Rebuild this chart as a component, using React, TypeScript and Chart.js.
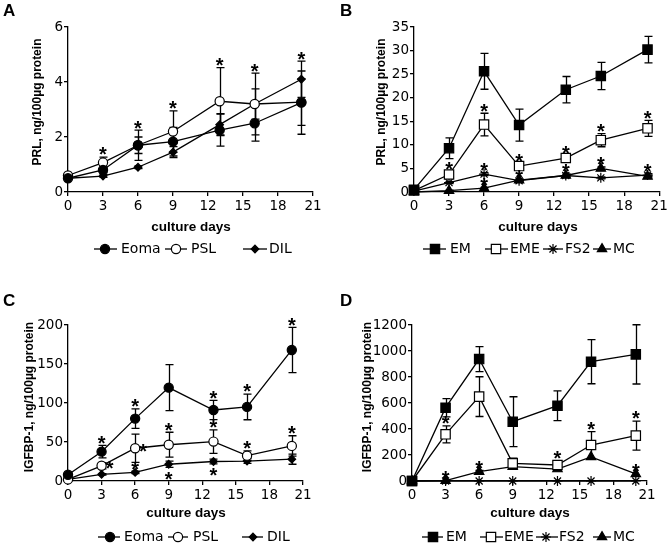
import React, { useEffect, useRef } from 'react';
import { Chart, registerables } from 'chart.js';

Chart.register(...registerables);

// ---------- data ----------
const DAYS = [0, 3, 6, 9, 13, 16, 20];
const X_TICKS = [0, 3, 6, 9, 12, 15, 18, 21];

// Panel A: PRL, ng/100µg protein
const A_EOMA = [0.5, 0.8, 1.7, 1.83, 2.25, 2.5, 3.25];
const A_EOMA_ERR = [0, 0.1, 0.55, 0.52, 0.58, 0.65, 1.15];
const A_EOMA_STARS = ['', '', 'a', '', '', '', ''];
const A_PSL = [0.6, 1.07, 1.7, 2.2, 3.3, 3.2, 3.27];
const A_PSL_ERR = [0, 0.2, 0.3, 0.75, 1.22, 1.12, 0.85];
const A_PSL_STARS = ['', 'a', '', 'a', 'a', 'a', ''];
const A_DIL = [0.5, 0.58, 0.9, 1.45, 2.45, 3.2, 4.1];
const A_DIL_ERR = [0, 0.05, 0.05, 0.2, 0.4, 0.55, 0.66];
const A_DIL_STARS = ['', '', '', '', '', '', 'a'];

// Panel B: PRL, ng/100µg protein
const B_EM = [0.5, 9.3, 25.6, 14.2, 21.7, 24.6, 30.2];
const B_EM_ERR = [0.3, 2.2, 3.8, 3.4, 2.8, 2.9, 2.8];
const B_EM_STARS = ['', '', '', '', '', '', ''];
const B_EME = [0.3, 3.7, 14.3, 5.5, 7.2, 11.0, 13.5];
const B_EME_ERR = [0.1, 0.6, 2.4, 0.5, 0.6, 1.4, 1.7];
const B_EME_STARS = ['', 'a', 'a', 'a', 'a', 'a', 'a'];
const B_FS2 = [0.2, 2.0, 3.8, 2.4, 3.5, 3.0, 3.6];
const B_FS2_ERR = [0, 0.2, 0.3, 0.3, 0.3, 0.2, 0.3];
const B_FS2_STARS = ['', '', 'a', 'a', '', '', 'a'];
const B_MC = [0, 0.3, 0.8, 2.5, 3.5, 5.0, 3.3];
const B_MC_ERR = [0, 0.1, 0.2, 0.3, 0.3, 0.3, 0.3];
const B_MC_STARS = ['', '', 'a', '', 'a', 'a', ''];

// Panel C: IGFBP-1, ng/100µg protein
const C_EOMA = [8, 37.6, 80, 119.7, 91, 95, 168];
const C_EOMA_ERR = [2, 8, 12.5, 29.5, 12.4, 16.5, 29];
const C_EOMA_STARS = ['', 'a', 'a', '', 'a', 'a', 'a'];
const C_PSL = [2, 19.5, 42, 46.5, 50.5, 32.5, 45];
const C_PSL_ERR = [1, 4, 18, 16, 15, 6, 13];
const C_PSL_STARS = ['', 'r', 'r', 'a', 'a', 'a', 'a'];
const C_DIL = [2, 8.5, 11, 21.5, 25, 25.6, 28];
const C_DIL_ERR = [0.5, 1, 1.5, 4, 3, 3, 6.5];
const C_DIL_STARS = ['', '', 'a', 'b', 'b', '', ''];

// Panel D: IGFBP-1, ng/100µg protein
const D_EM = [0, 564, 938, 456, 579, 918, 974];
const D_EM_ERR = [0, 70, 96, 192, 115, 170, 228];
const D_EM_STARS = ['', '', '', '', '', '', ''];
const D_EME = [0, 359, 649, 136, 123, 277, 349];
const D_EME_ERR = [0, 65, 153, 40, 33, 103, 112];
const D_EME_STARS = ['', 'a', '', '', 'a', 'a', 'a'];
const D_FS2 = [0, 0, 0, 0, 0, 0, 0];
const D_FS2_ERR = [0, 0, 0, 0, 0, 0, 0];
const D_FS2_STARS = ['', '', '', '', '', '', ''];
const D_MC = [0, 3, 72, 110, 92, 185, 55];
const D_MC_ERR = [0, 0, 10, 15, 12, 0, 0];
const D_MC_STARS = ['', 'a', 'a', '', '', '', 'a'];

// ---------- styles ----------
type Mk = 'circle' | 'ocircle' | 'diamond' | 'square' | 'osquare' | 'star' | 'triangle';

const MARKER: Record<Mk, { pointStyle: string; radius: number; fill: string }> = {
  circle: { pointStyle: 'circle', radius: 4.6, fill: '#000' },
  ocircle: { pointStyle: 'circle', radius: 4.6, fill: '#fff' },
  diamond: { pointStyle: 'rectRot', radius: 3.8, fill: '#000' },
  square: { pointStyle: 'rect', radius: 6.6, fill: '#000' },
  osquare: { pointStyle: 'rect', radius: 6.6, fill: '#fff' },
  star: { pointStyle: 'star', radius: 5, fill: '#000' },
  triangle: { pointStyle: 'triangle', radius: 5.4, fill: '#000' },
};

const SANS = "'Liberation Sans', Arial, sans-serif";
const TICK_FONT = "'DejaVu Sans', sans-serif";

interface SeriesDef {
  label: string;
  data: number[];
  err: number[];
  stars: string[];
  mk: Mk;
}

interface PanelDef {
  letter: string;
  yTitle: string;
  yMax: number;
  yStep: number;
  series: SeriesDef[];
  box: { x: number; y: number; w: number; h: number };
  area: { l: number; r: number; t: number; b: number };
  letterPos: [number, number];
  yTitlePos: [number, number];
  xTitlePos: [number, number];
  legendY: number;
  legend: [number, number, number, number][]; // lineStart, lineEnd, markerX, textX
}

const PANELS: PanelDef[] = [
  {
    letter: 'A',
    yTitle: 'PRL, ng/100µg protein',
    yMax: 6,
    yStep: 2,
    series: [
      { label: 'Eoma', data: A_EOMA, err: A_EOMA_ERR, stars: A_EOMA_STARS, mk: 'circle' },
      { label: 'PSL', data: A_PSL, err: A_PSL_ERR, stars: A_PSL_STARS, mk: 'ocircle' },
      { label: 'DIL', data: A_DIL, err: A_DIL_ERR, stars: A_DIL_STARS, mk: 'diamond' },
    ],
    box: { x: 0, y: 0, w: 333, h: 270 },
    area: { l: 68, r: 313, t: 27, b: 192 },
    letterPos: [3, 11],
    yTitlePos: [38, 102],
    xTitlePos: [191, 227],
    legendY: 249,
    legend: [
      [94, 117, 105, 121],
      [165, 187, 176, 191],
      [243, 267, 255, 269],
    ],
  },
  {
    letter: 'B',
    yTitle: 'PRL, ng/100µg protein',
    yMax: 35,
    yStep: 5,
    series: [
      { label: 'EM', data: B_EM, err: B_EM_ERR, stars: B_EM_STARS, mk: 'square' },
      { label: 'EME', data: B_EME, err: B_EME_ERR, stars: B_EME_STARS, mk: 'osquare' },
      { label: 'FS2', data: B_FS2, err: B_FS2_ERR, stars: B_FS2_STARS, mk: 'star' },
      { label: 'MC', data: B_MC, err: B_MC_ERR, stars: B_MC_STARS, mk: 'triangle' },
    ],
    box: { x: 333, y: 0, w: 334, h: 270 },
    area: { l: 81, r: 328, t: 27, b: 192 },
    letterPos: [7, 11],
    yTitlePos: [49, 102],
    xTitlePos: [205, 227],
    legendY: 249,
    legend: [
      [90, 113, 102, 117],
      [152, 175, 163, 177],
      [210, 230, 220, 232],
      [260, 278, 269, 280],
    ],
  },
  {
    letter: 'C',
    yTitle: 'IGFBP-1, ng/100µg protein',
    yMax: 200,
    yStep: 50,
    series: [
      { label: 'Eoma', data: C_EOMA, err: C_EOMA_ERR, stars: C_EOMA_STARS, mk: 'circle' },
      { label: 'PSL', data: C_PSL, err: C_PSL_ERR, stars: C_PSL_STARS, mk: 'ocircle' },
      { label: 'DIL', data: C_DIL, err: C_DIL_ERR, stars: C_DIL_STARS, mk: 'diamond' },
    ],
    box: { x: 0, y: 270, w: 333, h: 273 },
    area: { l: 68, r: 303, t: 55, b: 211 },
    letterPos: [3, 31],
    yTitlePos: [30, 127],
    xTitlePos: [186, 243],
    legendY: 267,
    legend: [
      [98, 120, 110, 124],
      [168, 188, 178, 193],
      [242, 263, 253, 267],
    ],
  },
  {
    letter: 'D',
    yTitle: 'IGFBP-1, ng/100µg protein',
    yMax: 1200,
    yStep: 200,
    series: [
      { label: 'EM', data: D_EM, err: D_EM_ERR, stars: D_EM_STARS, mk: 'square' },
      { label: 'EME', data: D_EME, err: D_EME_ERR, stars: D_EME_STARS, mk: 'osquare' },
      { label: 'FS2', data: D_FS2, err: D_FS2_ERR, stars: D_FS2_STARS, mk: 'star' },
      { label: 'MC', data: D_MC, err: D_MC_ERR, stars: D_MC_STARS, mk: 'triangle' },
    ],
    box: { x: 333, y: 270, w: 334, h: 273 },
    area: { l: 79, r: 314, t: 55, b: 211 },
    letterPos: [7, 31],
    yTitlePos: [35, 127],
    xTitlePos: [197, 243],
    legendY: 267,
    legend: [
      [89, 110, 100, 113],
      [147, 170, 158, 171],
      [203, 225, 213, 226],
      [260, 278, 269, 280],
    ],
  },
];

// ---------- drawing helpers ----------
function drawMarker(ctx: CanvasRenderingContext2D, mk: Mk, x: number, y: number) {
  const m = MARKER[mk];
  const r = m.radius;
  ctx.save();
  ctx.fillStyle = m.fill;
  ctx.strokeStyle = '#000';
  ctx.lineWidth = 1.2;
  ctx.beginPath();
  if (m.pointStyle === 'circle') {
    ctx.arc(x, y, r, 0, Math.PI * 2);
    ctx.fill();
    ctx.stroke();
  } else if (m.pointStyle === 'rectRot') {
    ctx.moveTo(x, y - r);
    ctx.lineTo(x + r, y);
    ctx.lineTo(x, y + r);
    ctx.lineTo(x - r, y);
    ctx.closePath();
    ctx.fill();
    ctx.stroke();
  } else if (m.pointStyle === 'rect') {
    const s = r * Math.SQRT1_2;
    ctx.rect(x - s, y - s, 2 * s, 2 * s);
    ctx.fill();
    ctx.stroke();
  } else if (m.pointStyle === 'triangle') {
    let a = 0;
    ctx.moveTo(x + Math.sin(a) * r, y - Math.cos(a) * r);
    a += (Math.PI * 2) / 3;
    ctx.lineTo(x + Math.sin(a) * r, y - Math.cos(a) * r);
    a += (Math.PI * 2) / 3;
    ctx.lineTo(x + Math.sin(a) * r, y - Math.cos(a) * r);
    ctx.closePath();
    ctx.fill();
    ctx.stroke();
  } else if (m.pointStyle === 'star') {
    ctx.moveTo(x, y - r);
    ctx.lineTo(x, y + r);
    ctx.moveTo(x - r, y);
    ctx.lineTo(x + r, y);
    const d = r * Math.SQRT1_2;
    ctx.moveTo(x - d, y - d);
    ctx.lineTo(x + d, y + d);
    ctx.moveTo(x - d, y + d);
    ctx.lineTo(x + d, y - d);
    ctx.stroke();
  }
  ctx.restore();
}

function makePlugin(def: PanelDef) {
  return {
    id: 'extras' + def.letter,
    beforeDatasetsDraw(chart: any) {
      const ctx: CanvasRenderingContext2D = chart.ctx;
      const xs = chart.scales.x;
      const ys = chart.scales.y;
      ctx.save();
      ctx.strokeStyle = '#000';
      ctx.lineWidth = 1.3;
      def.series.forEach((s) => {
        s.err.forEach((e, i) => {
          if (!e) return;
          const x = Math.round(xs.getPixelForValue(DAYS[i])) + 0.5;
          const yTop = ys.getPixelForValue(s.data[i] + e);
          const yBot = ys.getPixelForValue(Math.max(0, s.data[i] - e));
          ctx.beginPath();
          ctx.moveTo(x, yTop);
          ctx.lineTo(x, yBot);
          ctx.moveTo(x - 4, yTop);
          ctx.lineTo(x + 4, yTop);
          ctx.moveTo(x - 4, yBot);
          ctx.lineTo(x + 4, yBot);
          ctx.stroke();
        });
      });
      ctx.restore();
    },
    afterDraw(chart: any) {
      const ctx: CanvasRenderingContext2D = chart.ctx;
      const xs = chart.scales.x;
      const ys = chart.scales.y;
      ctx.save();
      ctx.fillStyle = '#000';

      // significance stars
      const fs = 20;
      ctx.font = `bold ${fs}px ${SANS}`;
      ctx.textAlign = 'center';
      ctx.textBaseline = 'alphabetic';
      def.series.forEach((s) => {
        s.stars.forEach((p, i) => {
          if (!p) return;
          const v = s.data[i];
          const e = s.err[i];
          const x = xs.getPixelForValue(DAYS[i]);
          let cx = x;
          let cy = ys.getPixelForValue(v);
          if (p === 'a') cy = ys.getPixelForValue(v + e) - 7;
          else if (p === 'b') cy = ys.getPixelForValue(Math.max(0, v - e)) + 7;
          else if (p === 'r') {
            cx = x + 8;
            cy = cy - 2;
          }
          ctx.fillText('*', cx, cy + 0.57 * fs);
        });
      });

      // panel letter
      ctx.font = `bold 17px ${SANS}`;
      ctx.textAlign = 'left';
      ctx.textBaseline = 'middle';
      ctx.fillText(def.letter, def.letterPos[0], def.letterPos[1]);

      // x title
      ctx.font = `bold 13.5px ${SANS}`;
      ctx.textAlign = 'center';
      ctx.textBaseline = 'middle';
      ctx.fillText('culture days', def.xTitlePos[0], def.xTitlePos[1]);

      // y title
      ctx.save();
      ctx.translate(def.yTitlePos[0], def.yTitlePos[1]);
      ctx.rotate(-Math.PI / 2);
      ctx.font = `bold 12px ${SANS}`;
      ctx.textAlign = 'center';
      ctx.textBaseline = 'middle';
      ctx.fillText(def.yTitle, 0, 0);
      ctx.restore();

      // legend
      def.series.forEach((s, k) => {
        const [x1, x2, mx, tx] = def.legend[k];
        const y = def.legendY;
        ctx.strokeStyle = '#000';
        ctx.lineWidth = 1.3;
        ctx.beginPath();
        ctx.moveTo(x1, y);
        ctx.lineTo(x2, y);
        ctx.stroke();
        drawMarker(ctx, s.mk, mx, y);
        ctx.fillStyle = '#000';
        ctx.font = `14px ${TICK_FONT}`;
        ctx.textAlign = 'left';
        ctx.textBaseline = 'middle';
        ctx.fillText(s.label, tx, y);
      });
      ctx.restore();
    },
  };
}

function makeConfig(def: PanelDef): any {
  const { w, h } = def.box;
  const { l, r, t, b } = def.area;
  const datasets = def.series.map((s) => {
    const m = MARKER[s.mk];
    return {
      label: s.label,
      data: DAYS.map((d, i) => ({ x: d, y: s.data[i] })),
      borderColor: '#000',
      borderWidth: 1.3,
      backgroundColor: m.fill,
      pointStyle: m.pointStyle,
      pointRadius: m.radius,
      pointHoverRadius: m.radius,
      pointBorderWidth: 1.2,
      pointBorderColor: '#000',
      pointBackgroundColor: m.fill,
      fill: false,
      tension: 0,
      clip: false,
    };
  });
  const tickFont = { family: TICK_FONT, size: 13.5 };
  return {
    type: 'line',
    data: { datasets },
    options: {
      animation: false,
      responsive: false,
      maintainAspectRatio: false,
      events: [],
      layout: { padding: { left: 0, top: t, right: w - r, bottom: 0 } },
      plugins: { legend: { display: false }, tooltip: { enabled: false }, title: { display: false } },
      scales: {
        x: {
          type: 'linear',
          min: 0,
          max: 21,
          afterBuildTicks: (s: any) => {
            s.ticks = X_TICKS.map((v) => ({ value: v }));
          },
          ticks: {
            font: tickFont,
            color: '#000',
            padding: 2,
            maxRotation: 0,
            autoSkip: false,
            callback: (v: number) => String(v),
          },
          grid: { drawOnChartArea: false, drawTicks: true, tickLength: 4, color: '#000', lineWidth: 1.3 },
          border: { color: '#000', width: 1.3 },
          afterFit: (s: any) => {
            s.height = h - b;
            s.paddingLeft = 0;
            s.paddingRight = 0;
          },
        },
        y: {
          type: 'linear',
          min: 0,
          max: def.yMax,
          ticks: {
            stepSize: def.yStep,
            font: tickFont,
            color: '#000',
            padding: 1,
            callback: (v: number) => String(v),
          },
          grid: { drawOnChartArea: false, drawTicks: true, tickLength: 4, color: '#000', lineWidth: 1.3 },
          border: { color: '#000', width: 1.3 },
          afterFit: (s: any) => {
            s.width = l;
            s.paddingTop = 0;
            s.paddingBottom = 0;
          },
        },
      },
    },
    plugins: [makePlugin(def)],
  };
}

function Panel({ def }: { def: PanelDef }) {
  const ref = useRef<HTMLCanvasElement>(null);
  useEffect(() => {
    if (!ref.current) return;
    const chart = new Chart(ref.current, makeConfig(def));
    return () => chart.destroy();
  }, [def]);
  const { x, y, w, h } = def.box;
  return (
    <canvas
      ref={ref}
      width={w}
      height={h}
      style={{ position: 'absolute', left: x, top: y, width: w, height: h }}
    />
  );
}

export default function App() {
  return (
    <div
      style={{
        position: 'fixed',
        left: 0,
        top: 0,
        width: 667,
        height: 543,
        background: '#fff',
        overflow: 'hidden',
      }}
    >
      {PANELS.map((p) => (
        <Panel key={p.letter} def={p} />
      ))}
    </div>
  );
}
